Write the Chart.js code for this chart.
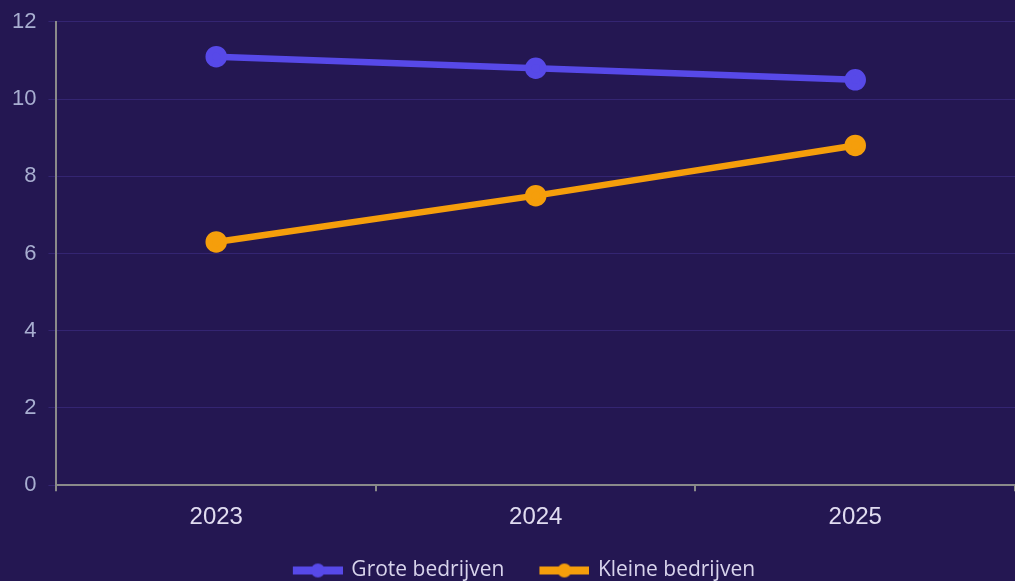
<!DOCTYPE html>
<html><head><meta charset="utf-8">
<script src="https://cdn.jsdelivr.net/npm/chart.js@4/dist/chart.umd.min.js"></script>
<style>
html,body{margin:0;padding:0;background:#241752;overflow:hidden;}
#wrap{position:absolute;left:0;top:0;width:1029px;height:591px;}
</style></head><body>
<div id="wrap"><canvas id="c"></canvas></div>
<script>
const categories = ['2023','2024','2025'];
const groteBedrijven = [11.1, 10.8, 10.5];
const kleineBedrijven = [6.3, 7.5, 8.8];
const yTicks = [0,2,4,6,8,10,12];
const seriesColors = ['#5749e8','#f59e0b'];

const ICON_PAD = 21;
function legendIcon(color){
  const c=document.createElement('canvas');c.width=50+ICON_PAD;c.height=16;
  const g=c.getContext('2d');
  g.fillStyle=color;g.fillRect(ICON_PAD,4,50,8);
  g.beginPath();g.arc(ICON_PAD+25,8,7,0,Math.PI*2);g.fill();
  return c;
}
const icons=seriesColors.map(legendIcon);

new Chart(document.getElementById('c'),{
  type:'line',
  data:{labels:categories,datasets:[
    {label:'Grote bedrijven',data:groteBedrijven,borderColor:seriesColors[0],backgroundColor:seriesColors[0],borderWidth:6.5,pointRadius:7.5,pointHoverRadius:7.5},
    {label:'Kleine bedrijven',data:kleineBedrijven,borderColor:seriesColors[1],backgroundColor:seriesColors[1],borderWidth:6.5,pointRadius:7.5,pointHoverRadius:7.5}
  ]},
  options:{
    responsive:true,maintainAspectRatio:false,animation:false,
    layout:{padding:{left:0,right:0,top:5,bottom:0}},
    plugins:{
      legend:{position:'bottom',labels:{
        usePointStyle:true,pointStyleWidth:46+ICON_PAD,boxHeight:16,color:'#d8d4ec',font:{family:'Open Sans',size:21},padding:16,
        generateLabels:(chart)=>chart.data.datasets.map((d,i)=>({text:d.label,pointStyle:icons[i],fillStyle:d.borderColor,strokeStyle:d.borderColor,lineWidth:0,fontColor:'#d8d4ec',datasetIndex:i,hidden:false}))
      }},
      tooltip:{enabled:false}
    },
    scales:{
      x:{offset:true,
        grid:{offset:true,drawOnChartArea:false,drawTicks:true,tickLength:6,color:'#8a8a8a',lineWidth:2},
        border:{color:'#8a8a8a',width:2},
        ticks:{color:'#e0dcf0',font:{family:'Liberation Sans',size:24},padding:12}},
      y:{min:0,max:12,
        afterBuildTicks:(s)=>{s.ticks=yTicks.map(v=>({value:v}));},
        grid:{color:'rgba(90,70,190,0.3)',lineWidth:1,tickLength:8,drawTicks:true},
        border:{color:'#8a8a8a',width:2},
        ticks:{color:'#a8aed0',font:{family:'Liberation Sans',size:22,lineHeight:0.9},padding:12}}
    }
  }
});
</script></body></html>
